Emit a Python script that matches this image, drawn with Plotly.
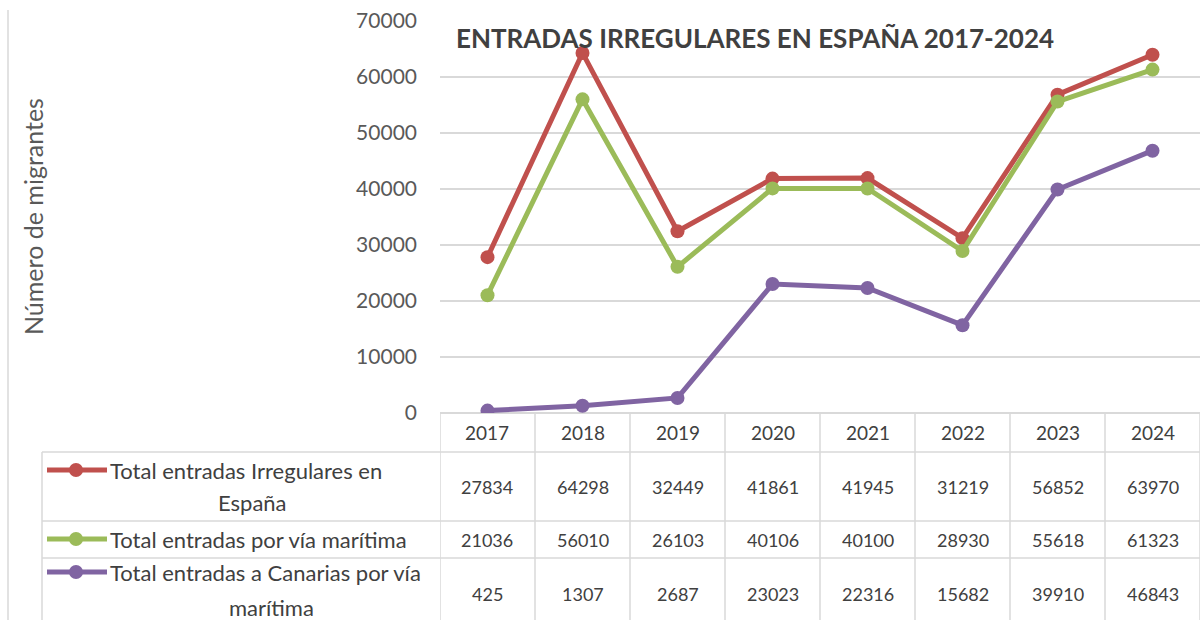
import plotly.graph_objects as go

years = ["2017", "2018", "2019", "2020", "2021", "2022", "2023", "2024"]
total_irregulares = [27834, 64298, 32449, 41861, 41945, 31219, 56852, 63970]
via_maritima = [21036, 56010, 26103, 40106, 40100, 28930, 55618, 61323]
canarias = [425, 1307, 2687, 23023, 22316, 15682, 39910, 46843]

series_names = [
    ["Total entradas Irregulares en", "España"],
    ["Total entradas por vía marítima"],
    ["Total entradas a Canarias por vía", "marítima"],
]
series_values = [total_irregulares, via_maritima, canarias]
colors = ["#C0504D", "#9BBB59", "#8064A2"]

title_text = "ENTRADAS IRREGULARES EN ESPAÑA 2017-2024"
y_title = "Número de migrantes"

W, H = 1200, 620
FONT = "Lato"
TXT = "#404040"
GRID = "#D9D9D9"


def py(p):
    return (H - p) / H


def px(p):
    return p / W


fig = go.Figure()
xs = list(range(len(years)))
for vals, col, nm in zip(series_values, colors, series_names):
    fig.add_trace(go.Scatter(
        x=xs, y=vals, mode="lines+markers", name=" ".join(nm),
        line=dict(color=col, width=5),
        marker=dict(color=col, size=14),
        showlegend=False,
    ))

# table geometry (pixels)
header_top = 413
row_lines = [452, 521, 558]
row_first_line = [470, 539, 572]
row_second_line = [502, None, 607]
second_line_center = [252, None, 271]
label_left = 42

shapes = []
# outer left border
shapes.append(dict(type="line", xref="paper", yref="paper", x0=px(8), x1=px(8),
                   y0=py(10), y1=0, line=dict(color=GRID, width=1.5)))
# vertical column lines
for i in range(len(years) + 1):
    shapes.append(dict(type="line", xref="x", yref="paper", x0=i - 0.5, x1=i - 0.5,
                       y0=py(header_top), y1=0, line=dict(color=GRID, width=1.5)))
# left border of label column
shapes.append(dict(type="line", xref="paper", yref="paper", x0=px(label_left), x1=px(label_left),
                   y0=py(row_lines[0]), y1=0, line=dict(color=GRID, width=1.5)))
# horizontal row lines
for r in row_lines:
    shapes.append(dict(type="line", xref="paper", yref="paper", x0=px(label_left), x1=1,
                       y0=py(r), y1=py(r), line=dict(color=GRID, width=1.5)))

annotations = []
# years header
for i, yr in enumerate(years):
    annotations.append(dict(x=i, y=py((header_top + row_lines[0]) / 2), xref="x", yref="paper",
                            text=yr, showarrow=False, font=dict(family=FONT, size=19, color=TXT),
                            xanchor="center", yanchor="middle"))
# values
row_bottoms = row_lines[1:] + [H + 10]
for r, vals in enumerate(series_values):
    yc = (row_lines[r] + row_bottoms[r]) / 2
    for i, v in enumerate(vals):
        annotations.append(dict(x=i, y=py(yc), xref="x", yref="paper",
                                text=str(v), showarrow=False,
                                font=dict(family=FONT, size=18, color=TXT),
                                xanchor="center", yanchor="middle"))
# row labels with legend keys
for r, (nm, col) in enumerate(zip(series_names, colors)):
    y1 = row_first_line[r]
    shapes.append(dict(type="line", xref="paper", yref="paper", x0=px(47), x1=px(107),
                       y0=py(y1), y1=py(y1), line=dict(color=col, width=5)))
    shapes.append(dict(type="circle", xref="paper", yref="paper",
                       x0=px(76 - 7), x1=px(76 + 7), y0=py(y1 + 7), y1=py(y1 - 7),
                       fillcolor=col, line=dict(color=col, width=0)))
    annotations.append(dict(x=px(108), y=py(y1), xref="paper", yref="paper", text=nm[0],
                            showarrow=False, font=dict(family=FONT, size=22, color=TXT),
                            xanchor="left", yanchor="middle"))
    if len(nm) > 1:
        annotations.append(dict(x=px(second_line_center[r]), y=py(row_second_line[r]),
                                xref="paper", yref="paper", text=nm[1],
                                showarrow=False, font=dict(family=FONT, size=22, color=TXT),
                                xanchor="center", yanchor="middle"))

# title
annotations.append(dict(x=px(454), y=py(38), xref="paper", yref="paper", text="<b>" + title_text + "</b>",
                        showarrow=False, font=dict(family=FONT, size=26, color="#404040"),
                        xanchor="left", yanchor="middle"))
# y-axis title
annotations.append(dict(x=px(33), y=py(217), xref="paper", yref="paper", text=y_title,
                        showarrow=False, textangle=-90, font=dict(family=FONT, size=25, color="#595959"),
                        xanchor="center", yanchor="middle"))

fig.update_layout(
    width=W, height=H, autosize=False,
    margin=dict(l=0, r=0, t=0, b=0, autoexpand=False),
    paper_bgcolor="white", plot_bgcolor="white",
    shapes=shapes, annotations=annotations,
    xaxis=dict(domain=[px(440), 1.0], range=[-0.5, 7.5], showticklabels=False, automargin=False,
               showgrid=False, zeroline=False, showline=False, fixedrange=True),
    yaxis=dict(domain=[py(header_top), py(21)], range=[0, 70000], dtick=10000, automargin=False,
               showgrid=True, gridcolor=GRID, gridwidth=1.5, zeroline=True,
               zerolinecolor=GRID, zerolinewidth=1.5, tickformat="d", ticklabelstandoff=22,
               tickfont=dict(family=FONT, size=21, color="#595959"), fixedrange=True),
)

fig.write_html("out.html",
               config={"responsive": False, "displayModeBar": False, "staticPlot": True},
               post_script="document.body.style.margin='0';document.body.style.overflow='hidden';")
